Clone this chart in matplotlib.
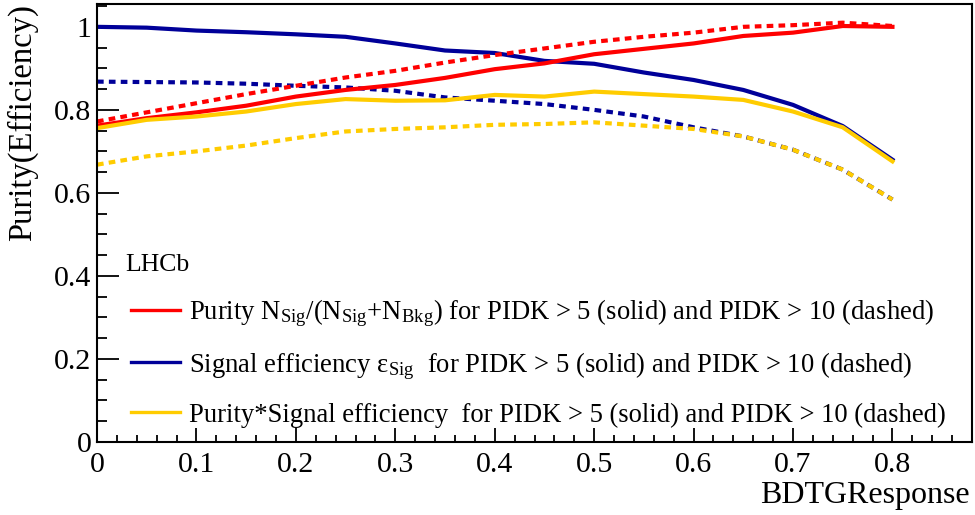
import matplotlib
matplotlib.use("Agg")
import matplotlib.pyplot as plt
from matplotlib.ticker import MultipleLocator, FuncFormatter
from matplotlib.lines import Line2D

plt.rcParams['font.family'] = ['Liberation Serif', 'DejaVu Serif']
plt.rcParams['mathtext.fontset'] = 'custom'
plt.rcParams['mathtext.rm'] = 'Liberation Serif'
plt.rcParams['mathtext.it'] = 'Liberation Serif'
plt.rcParams['mathtext.bf'] = 'Liberation Serif'

bdtg = [0.0, 0.05, 0.1, 0.15, 0.2, 0.25, 0.3, 0.35, 0.4, 0.45, 0.5, 0.55, 0.6, 0.65, 0.7, 0.75, 0.8]

purity_pidk5 = [0.762, 0.780, 0.794, 0.810, 0.832, 0.848, 0.860, 0.877, 0.898, 0.912, 0.934, 0.947,
                0.960, 0.978, 0.986, 1.002, 1.000]
purity_pidk10 = [0.772, 0.794, 0.816, 0.838, 0.858, 0.878, 0.894, 0.914, 0.932, 0.948, 0.964, 0.976,
                 0.986, 1.000, 1.004, 1.010, 1.002]
eff_pidk5 = [1.000, 0.998, 0.991, 0.987, 0.982, 0.976, 0.960, 0.943, 0.937, 0.918, 0.911, 0.890,
             0.872, 0.848, 0.812, 0.761, 0.680]
eff_pidk10 = [0.868, 0.867, 0.866, 0.863, 0.858, 0.854, 0.846, 0.830, 0.822, 0.814, 0.800, 0.784,
              0.758, 0.736, 0.704, 0.656, 0.584]
pe_pidk5 = [0.756, 0.776, 0.784, 0.796, 0.814, 0.826, 0.822, 0.823, 0.836, 0.832, 0.844, 0.838,
            0.832, 0.824, 0.796, 0.758, 0.676]
pe_pidk10 = [0.668, 0.688, 0.700, 0.714, 0.732, 0.748, 0.754, 0.758, 0.764, 0.766, 0.770, 0.762,
             0.754, 0.736, 0.704, 0.656, 0.584]

RED = '#ff0000'
BLUE = '#000099'
GOLD = '#ffcc00'

fig = plt.figure(figsize=(9.75, 5.15), dpi=100)
ax = fig.add_axes([97/975, 73/515, 875/975, 438/515])

lw = 3.0
dash = (0, (1.6, 1.25))
ax.plot(bdtg, eff_pidk5, color=BLUE, lw=lw)
ax.plot(bdtg, eff_pidk10, color=BLUE, lw=lw, linestyle=dash, dash_capstyle='butt')
ax.plot(bdtg, purity_pidk5, color=RED, lw=lw)
ax.plot(bdtg, purity_pidk10, color=RED, lw=lw, linestyle=dash, dash_capstyle='butt')
ax.plot(bdtg, pe_pidk5, color=GOLD, lw=lw)
ax.plot(bdtg, pe_pidk10, color=GOLD, lw=lw, linestyle=dash, dash_capstyle='butt')

ax.set_xlim(0, 0.88)
ax.set_ylim(0, 1.055)

ax.xaxis.set_major_locator(MultipleLocator(0.1))
ax.xaxis.set_minor_locator(MultipleLocator(0.02))
ax.yaxis.set_major_locator(MultipleLocator(0.2))
ax.yaxis.set_minor_locator(MultipleLocator(0.05))
fmt = FuncFormatter(lambda v, p: ('%g' % round(v, 3)))
ax.xaxis.set_major_formatter(fmt)
ax.yaxis.set_major_formatter(fmt)

ax.tick_params(axis='both', which='both', direction='in', top=False, right=False, labelsize=21.5, width=1.3)
ax.tick_params(axis='y', which='major', length=16, pad=4)
ax.tick_params(axis='y', which='minor', length=7.5)
ax.tick_params(axis='x', which='major', length=10, pad=7)
ax.tick_params(axis='x', which='minor', length=5)
for s in ax.spines.values():
    s.set_linewidth(1.5)

fig.text(970/975, 1 - 495/515, 'BDTGResponse', ha='right', va='center', fontsize=23)
fig.text(22/975, 1 - 4/515, 'Purity(Efficiency)', ha='center', va='top', rotation=90, fontsize=23.5)

ax.text((125 - 97)/875, (442 - 265)/438, 'LHCb', transform=ax.transAxes, fontsize=18.5,
        va='center', ha='left')

labels = [
    r'Purity N$_{\mathrm{Sig}}$/(N$_{\mathrm{Sig}}$+N$_{\mathrm{Bkg}}$) for PIDK > 5 (solid) and PIDK > 10 (dashed)',
    r'Signal efficiency $\mathrm{\varepsilon}_{\mathrm{Sig}}$  for PIDK > 5 (solid) and PIDK > 10 (dashed)',
    r'Purity*Signal efficiency  for PIDK > 5 (solid) and PIDK > 10 (dashed)',
]
handles = [Line2D([], [], color=c, lw=2.4) for c in (RED, BLUE, GOLD)]
leg = ax.legend(handles, labels, loc='upper left', bbox_to_anchor=(0.039, 0.33), frameon=False,
                fontsize=19.2, handlelength=1.85, handletextpad=0.33, labelspacing=0.78,
                borderaxespad=0, borderpad=0)

fig.savefig('out.png', dpi=100)
